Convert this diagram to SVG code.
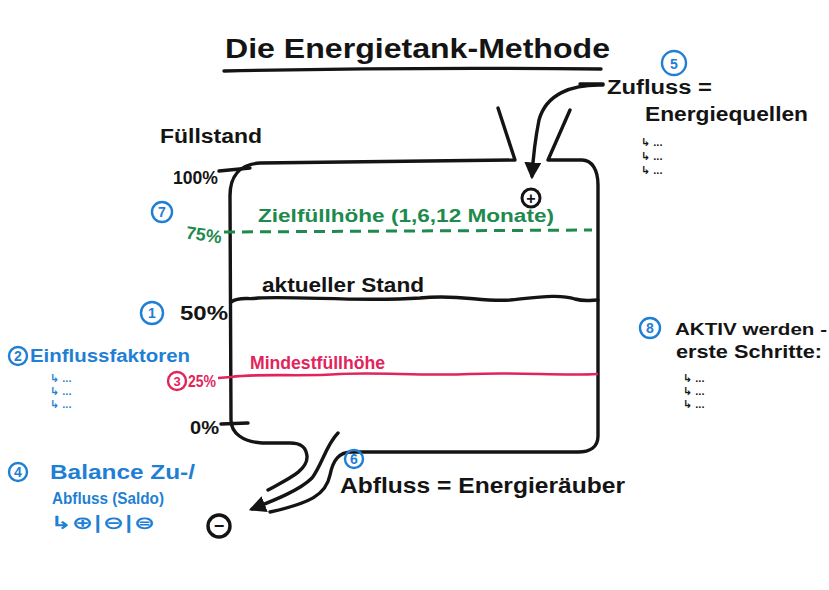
<svg xmlns="http://www.w3.org/2000/svg" width="829" height="590" viewBox="0 0 829 590">
<defs>
<style>
text{font-family:"Liberation Sans","DejaVu Sans",sans-serif;font-weight:bold}
.k{fill:#141414}
.b{fill:#1f7fd4}
.g{fill:#1e8a4e}
.r{fill:#e2245c}
.ln{fill:none;stroke:#141414;stroke-width:3.4;stroke-linecap:round;stroke-linejoin:round}
.num{fill:none;stroke:#1f7fd4;stroke-width:2.4}
.nt{fill:#1f7fd4;font-size:14px;text-anchor:middle}
.bul{font-size:11px}
</style>
<marker id="ah" viewBox="0 0 10 10" refX="8" refY="5" markerWidth="5" markerHeight="5" orient="auto" markerUnits="strokeWidth">
<path d="M0,0 L10,5 L0,10 z" fill="#141414"/>
</marker>
</defs>
<rect width="829" height="590" fill="#ffffff"/>

<g id="title">
<text class="k" x="225" y="58" font-size="28" textLength="385" lengthAdjust="spacingAndGlyphs">Die Energietank-Methode</text>
<path class="ln" d="M224,71 Q410,67 601,69" stroke-width="3"/>
</g>

<g id="tank">
<path class="ln" d="M268,490 C290,478 308,470 307,456 C306,446 300,443 290,443 L262,443 C243,442 231,433 231,420 L230,196 C230,176 240,164 260,163 L515,160 L498,108"/>
<path class="ln" d="M570,110 L548,160 L582,160 C592,160 598,170 598,185 L598,436 C598,447 590,452 578,452 L352,452 C339,452 333,460 330,475 C326,495 310,503 270,512"/>
</g>

<g id="fuellstand">
<text class="k" x="160" y="143" font-size="20" textLength="102" lengthAdjust="spacingAndGlyphs">Füllstand</text>
</g>

<g id="level100">
<text class="k" x="173" y="184" font-size="18" textLength="45" lengthAdjust="spacingAndGlyphs">100%</text>
<path class="ln" d="M219,171 L250,168" stroke-width="3"/>
</g>

<g id="level75">
<circle class="num" cx="162" cy="212" r="10"/>
<text class="nt" x="162" y="217">7</text>
<text class="g" x="186" y="241" font-size="18" textLength="36" lengthAdjust="spacingAndGlyphs" transform="rotate(8 204 234)">75%</text>
<path d="M224,232 L592,230" fill="none" stroke="#1e8a4e" stroke-width="3" stroke-dasharray="11 7"/>
<text class="g" x="258" y="222" font-size="18" textLength="296" lengthAdjust="spacingAndGlyphs">Zielfüllhöhe (1,6,12 Monate)</text>
</g>

<g id="level50">
<circle class="num" cx="152" cy="313" r="11"/>
<text class="nt" x="152" y="318">1</text>
<text class="k" x="180" y="320" font-size="20" textLength="48" lengthAdjust="spacingAndGlyphs">50%</text>
<path class="ln" d="M231,302 C240,296 248,300 258,298 C300,296 360,302 420,298 C460,294 480,302 510,300 C540,297 560,294 575,299 C585,302 592,300 598,300" stroke-width="3"/>
<text class="k" x="262" y="292" font-size="20" textLength="162" lengthAdjust="spacingAndGlyphs">aktueller Stand</text>
</g>

<g id="einfluss">
<circle class="num" cx="18" cy="356" r="9"/>
<text class="nt" x="18" y="361" font-size="13">2</text>
<text class="b" x="30" y="362" font-size="18" textLength="160" lengthAdjust="spacingAndGlyphs">Einflussfaktoren</text>
<text class="b bul" x="50" y="382">↳ ...</text>
<text class="b bul" x="50" y="395">↳ ...</text>
<text class="b bul" x="50" y="408">↳ ...</text>
</g>

<g id="level25">
<circle cx="177" cy="381" r="9" fill="none" stroke="#e2245c" stroke-width="2.4"/>
<text class="r" x="177" y="386" font-size="13" text-anchor="middle">3</text>
<text class="r" x="188" y="387" font-size="16" textLength="28" lengthAdjust="spacingAndGlyphs">25%</text>
<path d="M218,378 L231,377 C260,373 300,377 340,374 C380,372 420,376 470,374 C520,372 560,376 598,374" fill="none" stroke="#e2245c" stroke-width="2.6"/>
<text class="r" x="250" y="369" font-size="18" textLength="135" lengthAdjust="spacingAndGlyphs">Mindestfüllhöhe</text>
</g>

<g id="level0">
<text class="k" x="190" y="434" font-size="18" textLength="29" lengthAdjust="spacingAndGlyphs">0%</text>
<path class="ln" d="M221,424 L248,423" stroke-width="3"/>
</g>

<g id="balance">
<circle class="num" cx="18" cy="472" r="9"/>
<text class="nt" x="18" y="477" font-size="13">4</text>
<text class="b" x="50" y="479" font-size="20" textLength="145" lengthAdjust="spacingAndGlyphs">Balance Zu-/</text>
<text class="b" x="52" y="504" font-size="16" textLength="112" lengthAdjust="spacingAndGlyphs">Abfluss (Saldo)</text>
<text class="b" x="50" y="529" font-size="18" textLength="105" lengthAdjust="spacingAndGlyphs" style="font-family:'DejaVu Sans',sans-serif">↳⊕|⊖|⊜</text>
</g>

<g id="zufluss">
<circle class="num" cx="674" cy="63" r="12"/>
<text class="nt" x="674" y="69" font-size="16">5</text>
<text class="k" x="607" y="94" font-size="20" textLength="105" lengthAdjust="spacingAndGlyphs">Zufluss =</text>
<text class="k" x="645" y="121" font-size="20" textLength="163" lengthAdjust="spacingAndGlyphs">Energiequellen</text>
<text class="k bul" x="641" y="146">↳ ...</text>
<text class="k bul" x="641" y="160">↳ ...</text>
<text class="k bul" x="641" y="174">↳ ...</text>
</g>

<g id="plus">
<circle cx="531" cy="198" r="9" fill="none" stroke="#141414" stroke-width="3"/>
<text class="k" x="531" y="204" font-size="16" text-anchor="middle">+</text>
</g>

<g id="minus">
<circle cx="219" cy="526" r="11" fill="none" stroke="#141414" stroke-width="3.4"/>
<text class="k" x="219" y="532" font-size="18" text-anchor="middle">−</text>
</g>

<g id="abfluss">
<circle class="num" cx="354" cy="459" r="9"/>
<text class="nt" x="354" y="464" font-size="13">6</text>
<text class="k" x="340" y="493" font-size="22" textLength="285" lengthAdjust="spacingAndGlyphs">Abfluss = Energieräuber</text>
</g>

<g id="aktiv">
<circle class="num" cx="650" cy="328" r="10"/>
<text class="nt" x="650" y="333">8</text>
<text class="k" x="675" y="335" font-size="16" textLength="152" lengthAdjust="spacingAndGlyphs">AKTIV werden -</text>
<text class="k" x="676" y="358" font-size="18" textLength="146" lengthAdjust="spacingAndGlyphs">erste Schritte:</text>
<text class="k bul" x="683" y="382">↳ ...</text>
<text class="k bul" x="683" y="395">↳ ...</text>
<text class="k bul" x="683" y="408">↳ ...</text>
</g>

<g id="connectors">
<path class="ln" d="M580,84 L603,84" stroke-width="3"/>
<path class="ln" d="M603,85 C572,84 546,94 539,120 C535,140 533,160 532,176" marker-end="url(#ah)"/>
<path class="ln" d="M338,433 C326,445 322,465 312,478 C300,490 275,500 252,509" marker-end="url(#ah)"/>
</g>
</svg>
